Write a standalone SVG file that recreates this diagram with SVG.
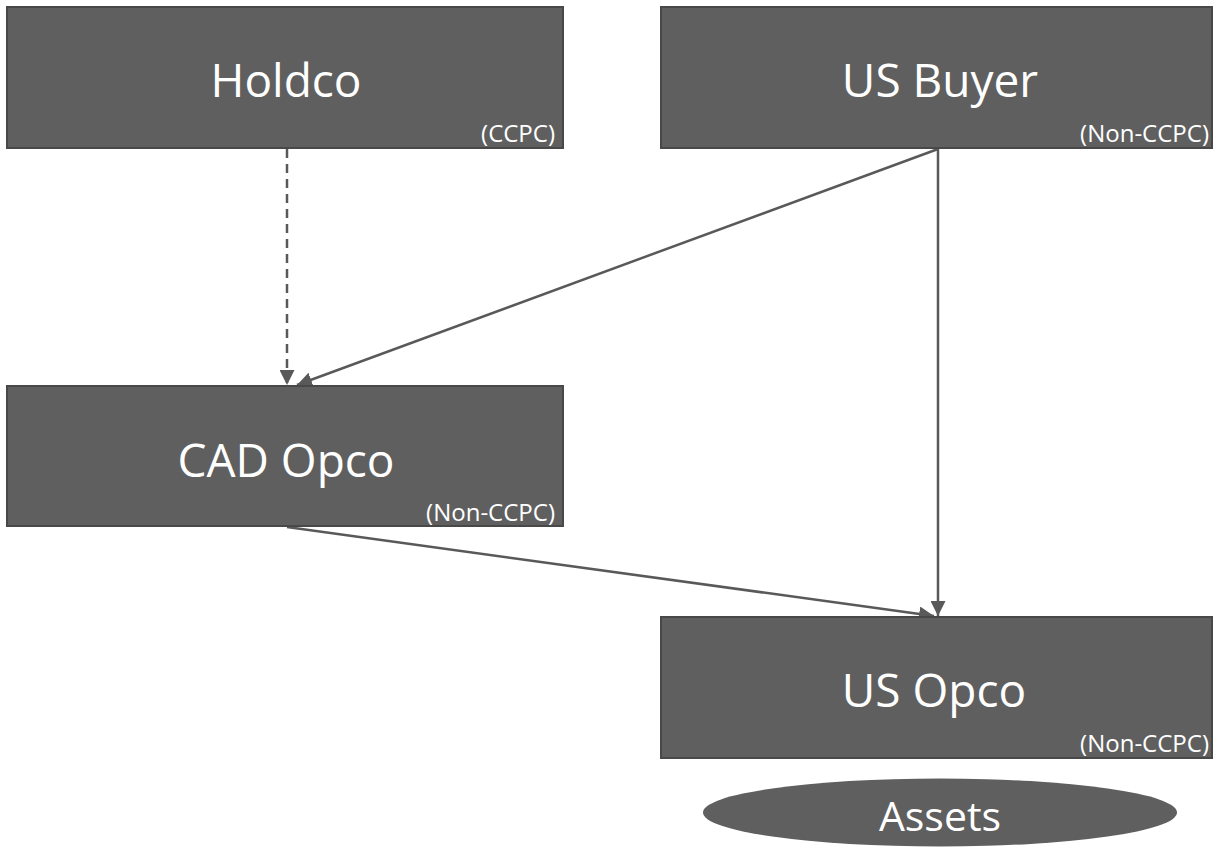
<svg xmlns="http://www.w3.org/2000/svg" width="1217" height="848" viewBox="0 0 1217 848">
<style>
.box{fill:#5f5f5f;stroke:#484848;stroke-width:2}
.t{font-family:"Open Sans","Liberation Sans",sans-serif;fill:#ffffff}
.big{font-size:46px;text-anchor:middle}
.small{font-size:24px;text-anchor:end}
.c{stroke:#595959;stroke-width:2.5;fill:none}
</style>
<defs>
<marker id="ah" viewBox="0 0 10 10" refX="10" refY="5" markerWidth="6" markerHeight="6" markerUnits="strokeWidth" orient="auto">
<path d="M0,0 L10,5 L0,10 z" fill="#595959"/>
</marker>
</defs>
<rect width="1217" height="848" fill="#ffffff"/>
<g id="connectors">
<line class="c" x1="287" y1="149" x2="287" y2="385" stroke-dasharray="9,6" marker-end="url(#ah)"/>
<line class="c" x1="938" y1="149" x2="297" y2="385" marker-end="url(#ah)"/>
<line class="c" x1="938" y1="149" x2="938" y2="616" marker-end="url(#ah)"/>
<line class="c" x1="287" y1="527" x2="934" y2="616" marker-end="url(#ah)"/>
</g>
<g id="holdco">
<rect class="box" x="7" y="7" width="556" height="141"/>
<text class="t big" x="286" y="97">Holdco</text>
<text class="t small" x="555" y="142">(CCPC)</text>
</g>
<g id="usbuyer">
<rect class="box" x="661" y="7" width="551" height="141"/>
<text class="t big" x="940" y="97">US Buyer</text>
<text class="t small" x="1209" y="142">(Non-CCPC)</text>
</g>
<g id="cadopco">
<rect class="box" x="7" y="386" width="556" height="140"/>
<text class="t big" x="286" y="477">CAD Opco</text>
<text class="t small" x="555" y="521">(Non-CCPC)</text>
</g>
<g id="usopco">
<rect class="box" x="661" y="617" width="551" height="141"/>
<text class="t big" x="934" y="707">US Opco</text>
<text class="t small" x="1209" y="752">(Non-CCPC)</text>
</g>
<g id="assets">
<ellipse cx="940" cy="812.5" rx="237" ry="34" fill="#5f5f5f"/>
<text class="t" x="940" y="831" font-size="41" text-anchor="middle">Assets</text>
</g>
</svg>
